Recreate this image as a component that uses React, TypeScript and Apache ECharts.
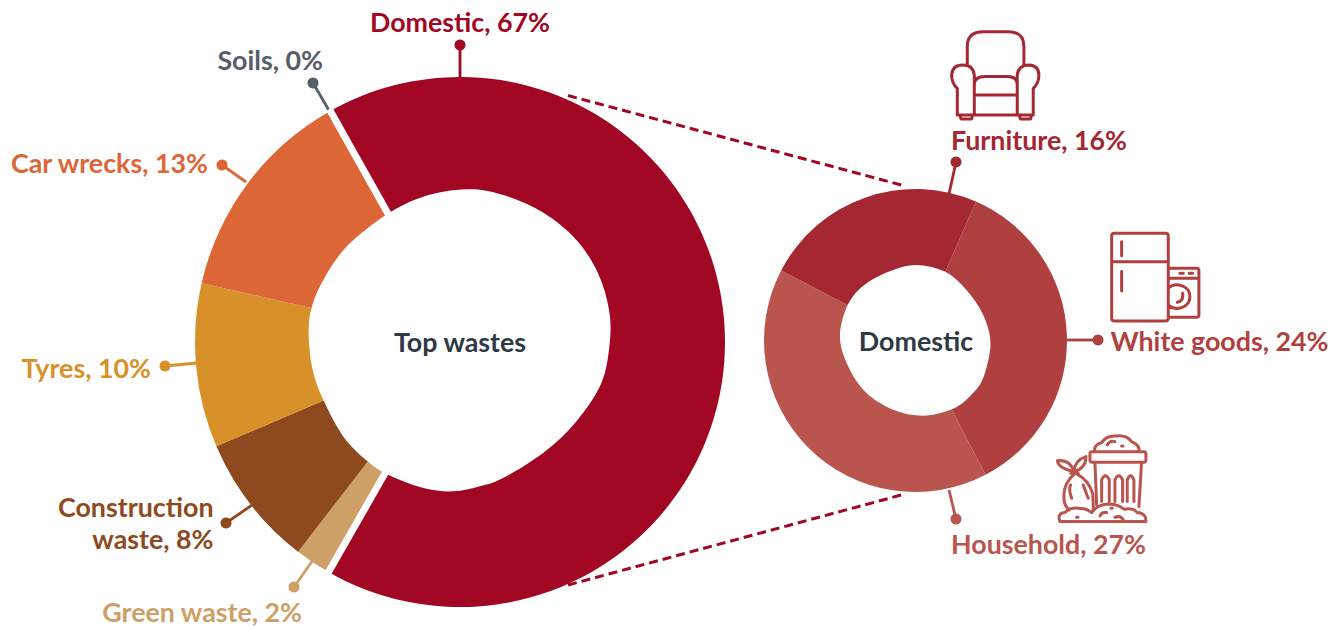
import React, { useEffect, useRef } from "react";
import * as echarts from "echarts";

const FONT = "Lato";
const TEXT_DARK = "#2F3846";

const topNames = ["Domestic", "Green waste", "Construction\nwaste", "Tyres", "Car wrecks", "Soils"];
const topValues = [66.4, 2.2, 8.1, 10, 13.3, 0];
const topPercents = [67, 2, 8, 10, 13, 0];
const topColors = ["#A10623", "#CCA066", "#8E4A1E", "#D89128", "#DD6636", "#565E69"];

const domesticNames = ["White goods", "Household", "Furniture"];
const domesticValues = [24, 27, 16];
const domesticColors = ["#B03F3F", "#BA554D", "#A52731"];

type Pt = [number, number];

const topHole: Pt[] = [[530,58],[640,75],[760,128],[860,210],[925,310],[958,420],[960,520],[935,640],[860,755],[760,850],[640,925],[570,950],[490,965],[400,955],[298,917],[230,872],[160,800],[100,690],[68,600],[56,490],[66,410],[100,330],[170,230],[288,135],[400,80]];
const domesticHole: Pt[] = [[470,285],[555,305],[620,360],[670,435],[692,520],[672,620],[635,675],[578,718],[490,738],[400,720],[320,670],[265,590],[240,500],[265,402],[320,340],[400,300]];

function smoothClosed(pts: Pt[]): string {
  const n = pts.length;
  let d = `M${pts[0][0]} ${pts[0][1]}`;
  for (let i = 0; i < n; i++) {
    const p0 = pts[(i - 1 + n) % n], p1 = pts[i], p2 = pts[(i + 1) % n], p3 = pts[(i + 2) % n];
    const c1x = p1[0] + (p2[0] - p0[0]) / 6, c1y = p1[1] + (p2[1] - p0[1]) / 6;
    const c2x = p2[0] - (p3[0] - p1[0]) / 6, c2y = p2[1] - (p3[1] - p1[1]) / 6;
    d += ` C${c1x} ${c1y} ${c2x} ${c2y} ${p2[0]} ${p2[1]}`;
  }
  return d + " Z";
}

const chairIcon = "M112 135 L112 80 Q112 35 160 35 L235 35 Q282 35 282 80 L282 135 M82 285 L82 205 Q65 190 65 165 Q67 135 98 135 Q130 135 133 165 L133 285 M262 285 L262 165 Q265 135 297 135 Q327 137 327 165 Q327 190 310 205 L310 285 M82 285 L310 285 M90 285 L93 297 L125 297 L128 285 M268 285 L271 297 L302 297 L305 285 M133 195 Q133 170 165 170 L232 170 Q262 170 262 195 M133 225 L262 225";
const applianceIcon = "M43 25 L197 25 Q205 25 205 33 L205 280 Q205 288 197 288 L43 288 Q35 288 35 280 L35 33 Q35 25 43 25 Z M35 110 L205 110 M65 50 L65 92 M65 140 L65 198 M205 130 L290 130 Q297 130 297 137 L297 270 Q297 277 290 277 L205 277 M205 160 L297 160 M240 145 L250 145 M268 145 L278 145 M205 190 C225 170 270 180 270 215 C270 250 225 260 205 240 M248 205 Q252 228 232 232";
const trashIcon = "M126 65 L282 65 Q288 65 288 71 L288 91 Q288 97 282 97 L126 97 Q120 97 120 91 L120 71 Q120 65 126 65 Z M135 65 Q130 45 155 38 Q170 15 200 18 Q230 15 245 35 Q270 45 268 65 M172 45 Q180 30 195 35 M215 48 L219 48 M135 97 L140 225 M275 97 L267 230 M155 215 L155 150 Q166 125 178 150 L178 215 M195 215 L195 150 Q206 125 218 150 L218 215 M232 215 L232 150 Q242 125 252 150 L252 215 M75 130 Q40 160 42 200 Q40 225 58 240 M80 132 Q115 150 128 190 Q130 215 130 240 M62 165 Q55 180 65 205 M100 165 Q105 180 115 205 M72 125 Q25 115 22 92 Q60 88 72 125 M72 125 Q75 90 108 80 Q108 115 72 125 M62 130 L85 130 M30 275 Q20 250 45 248 Q60 232 85 235 Q110 235 125 248 Q140 225 175 222 Q205 222 222 238 Q250 232 262 248 Q290 250 288 275 Z M150 258 Q155 245 170 248 M195 262 Q215 255 222 275 M80 262 L84 262 M183 235 L187 235";

echarts.graphic.registerShape("topHole", echarts.graphic.extendPath(smoothClosed(topHole), {}));
echarts.graphic.registerShape("domesticHole", echarts.graphic.extendPath(smoothClosed(domesticHole), {}));
echarts.graphic.registerShape("chairIcon", echarts.graphic.extendPath(chairIcon, {}));
echarts.graphic.registerShape("applianceIcon", echarts.graphic.extendPath(applianceIcon, {}));
echarts.graphic.registerShape("trashIcon", echarts.graphic.extendPath(trashIcon, {}));

const TOP_CENTER: Pt = [460, 342];
const TOP_START = 119.3;
const DOM_CENTER: Pt = [915.5, 340.5];
const DOM_START = 66.5;

const topLabelPos: any[] = [
  { x: 460, y: 22, align: "center" },
  { x: 302, y: 612, align: "right" },
  { x: 213.5, y: 523, align: "right" },
  { x: 151, y: 368, align: "right" },
  { x: 208, y: 163, align: "right" },
  { x: 323, y: 60, align: "right" },
];
const domLabelPos: any[] = [
  { x: 1110.5, y: 341, align: "left" },
  { x: 951, y: 544, align: "left" },
  { x: 951, y: 140, align: "left" },
];

const leaders: { color: string; dot: Pt; end: Pt }[] = [
  { color: topColors[0], dot: [460, 45], end: [460, 77] },
  { color: topColors[5], dot: [313, 83], end: [328.5, 109.5] },
  { color: topColors[4], dot: [222, 165], end: [246, 182] },
  { color: topColors[3], dot: [165, 366], end: [197, 363] },
  { color: topColors[2], dot: [226, 523], end: [255, 503] },
  { color: topColors[1], dot: [294, 587], end: [313, 560] },
  { color: domesticColors[2], dot: [956, 162], end: [949, 194] },
  { color: domesticColors[0], dot: [1098, 340], end: [1066, 340] },
  { color: domesticColors[1], dot: [956, 519], end: [949, 490] },
];

function polar(c: Pt, r: number, deg: number): Pt {
  const a = (deg * Math.PI) / 180;
  return [c[0] + r * Math.cos(a), c[1] - r * Math.sin(a)];
}

function pieSeries(center: Pt, radius: number, start: number, names: string[], values: number[], colors: string[], pcts: number[], pos: any[]) {
  return {
    type: "pie",
    center,
    radius: [40, radius],
    startAngle: start,
    clockwise: true,
    avoidLabelOverlap: false,
    silent: true,
    data: names.map((name, i) => ({
      name,
      value: values[i],
      itemStyle: { color: colors[i] },
      label: { color: colors[i] },
    })),
    label: {
      show: true,
      position: "outside",
      fontFamily: FONT,
      fontWeight: 700,
      fontSize: 26.8,
      lineHeight: 32,
      formatter: (p: any) => `${p.name}, ${pcts[p.dataIndex]}%`,
    },
    labelLine: { show: false },
    labelLayout: (p: any) => ({ ...pos[p.dataIndex], verticalAlign: "middle" }),
  };
}

export default function App() {
  const ref = useRef<HTMLDivElement>(null);
  useEffect(() => {
    const chart = echarts.init(ref.current!, undefined, { renderer: "svg" });
    const total = topValues.reduce((a, b) => a + b, 0);
    const gapAngles = [TOP_START, TOP_START - (topValues[0] / total) * 360];
    const elements: any[] = [];
    gapAngles.forEach((g) => {
      const a = polar(TOP_CENTER, 100, g), b = polar(TOP_CENTER, 275, g);
      elements.push({ type: "line", z: 50, shape: { x1: a[0], y1: a[1], x2: b[0], y2: b[1] }, style: { stroke: "#fff", lineWidth: 7 } });
    });
    elements.push({ type: "topHole", z: 60, x: 290, y: 170, scaleX: 1 / 3, scaleY: 1 / 3, style: { fill: "#fff" } });
    elements.push({ type: "domesticHole", z: 60, x: 760, y: 170, scaleX: 1 / 3, scaleY: 1 / 3, style: { fill: "#fff" } });
    [[568, 95.5, 905, 186], [568, 585, 905, 494]].forEach((s) => {
      elements.push({ type: "line", z: 70, shape: { x1: s[0], y1: s[1], x2: s[2], y2: s[3] }, style: { stroke: topColors[0], lineWidth: 3, lineDash: [9, 5] } });
    });
    leaders.forEach((l) => {
      elements.push({ type: "line", z: 70, shape: { x1: l.dot[0], y1: l.dot[1], x2: l.end[0], y2: l.end[1] }, style: { stroke: l.color, lineWidth: 2.8 } });
      elements.push({ type: "circle", z: 71, shape: { cx: l.dot[0], cy: l.dot[1], r: 5.5 }, style: { fill: l.color } });
    });
    elements.push({ type: "text", z: 72, x: 460, y: 341.5, style: { text: "Top wastes", fill: TEXT_DARK, font: `700 26.8px ${FONT}`, textAlign: "center", textVerticalAlign: "middle" } });
    elements.push({ type: "text", z: 72, x: 916, y: 340.5, style: { text: "Domestic", fill: TEXT_DARK, font: `700 26.8px ${FONT}`, textAlign: "center", textVerticalAlign: "middle" } });
    const icon = (type: string, x: number, y: number, color: string) => ({
      type, z: 73, x, y, scaleX: 1 / 3, scaleY: 1 / 3,
      style: { fill: "none", stroke: color, lineWidth: 9, lineCap: "round", lineJoin: "round" },
    });
    elements.push(icon("chairIcon", 930, 20, domesticColors[2]));
    elements.push(icon("applianceIcon", 1100, 225, domesticColors[0]));
    elements.push(icon("trashIcon", 1050, 430, domesticColors[1]));

    chart.setOption({
      animation: false,
      backgroundColor: "#fff",
      series: [
        pieSeries(TOP_CENTER, 265, TOP_START, topNames, topValues, topColors, topPercents, topLabelPos),
        pieSeries(DOM_CENTER, 151.5, DOM_START, domesticNames, domesticValues, domesticColors, domesticValues, domLabelPos),
      ],
      graphic: { elements },
    });
    return () => chart.dispose();
  }, []);
  return <div ref={ref} style={{ position: "fixed", left: 0, top: 0, width: 1344, height: 627 }} />;
}
